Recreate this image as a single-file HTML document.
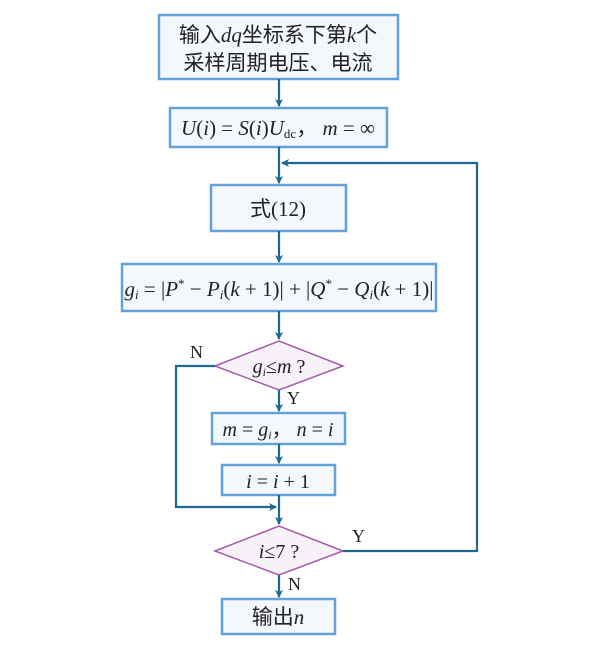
<!DOCTYPE html>
<html><head><meta charset="utf-8"><style>
html,body{margin:0;padding:0;background:#fff;}
svg{display:block}
text{font-family:"Liberation Serif","Noto Serif CJK SC","Noto Sans CJK SC",serif;fill:#222;}
.cj{font-family:"Liberation Serif","Noto Sans CJK SC",sans-serif;}
.i{font-style:italic}
</style></head><body>
<svg width="614" height="650" viewBox="0 0 614 650" xmlns="http://www.w3.org/2000/svg">
<defs>
<marker id="a" markerWidth="8" markerHeight="10" refX="7" refY="4" orient="auto" markerUnits="userSpaceOnUse">
<path d="M0,0 L8,4 L0,8 L2,4 Z" fill="#1c6a94"/>
</marker>
</defs>
<g fill="#f4f7fc" stroke="#62a2d8" stroke-width="2.5">
<rect x="159" y="15" width="239" height="64"/>
<rect x="170" y="108" width="217" height="39"/>
<rect x="211" y="185" width="135" height="46"/>
<rect x="122" y="264" width="314" height="47"/>
<rect x="212" y="413" width="133" height="31"/>
<rect x="222" y="465" width="113" height="30"/>
<rect x="222" y="599" width="113" height="35"/>
</g>
<g fill="#f7f1f8" stroke="#a45aab" stroke-width="1.5">
<polygon points="215,366 279,341 343,366 279,390"/>
<polygon points="215,551 279,526 343,551 279,575"/>
</g>
<g stroke="#1c6a94" stroke-width="2.2" fill="none">
<line x1="279" y1="79" x2="279" y2="106" marker-end="url(#a)"/>
<line x1="279" y1="147" x2="279" y2="183" marker-end="url(#a)"/>
<polyline points="343,551 477,551 477,163 282,163" marker-end="url(#a)"/>
<line x1="279" y1="231" x2="279" y2="262" marker-end="url(#a)"/>
<line x1="279" y1="311" x2="279" y2="339" marker-end="url(#a)"/>
<line x1="279" y1="390" x2="279" y2="411" marker-end="url(#a)"/>
<line x1="279" y1="444" x2="279" y2="463" marker-end="url(#a)"/>
<line x1="279" y1="495" x2="279" y2="524" marker-end="url(#a)"/>
<polyline points="215,366 176,366 176,507 276,507" marker-end="url(#a)"/>
<line x1="279" y1="575" x2="279" y2="597" marker-end="url(#a)"/>
</g>
<text x="278" y="42" font-size="21" text-anchor="middle" class="cj">输入<tspan class="i">dq</tspan>坐标系下第<tspan class="i">k</tspan>个</text>
<text x="278" y="70" font-size="21" text-anchor="middle" class="cj">采样周期电压、电流</text>
<text x="278" y="135" font-size="21" text-anchor="middle"><tspan class="i">U</tspan>(<tspan class="i">i</tspan>) = <tspan class="i">S</tspan>(<tspan class="i">i</tspan>)<tspan class="i">U</tspan><tspan font-size="13" dy="3">dc</tspan><tspan dy="-3" class="cj">，</tspan> <tspan class="i">m</tspan> = ∞</text>
<text x="278" y="216" font-size="21" text-anchor="middle" class="cj">式(12)</text>
<text x="279" y="296" font-size="21" text-anchor="middle"><tspan class="i">g</tspan><tspan font-size="13" dy="3" class="i">i</tspan><tspan dy="-3"> = |</tspan><tspan class="i">P</tspan><tspan font-size="13" dy="-8">*</tspan><tspan dy="8"> − </tspan><tspan class="i">P</tspan><tspan font-size="13" dy="3" class="i">i</tspan><tspan dy="-3">(</tspan><tspan class="i">k</tspan> + 1)| + |<tspan class="i">Q</tspan><tspan font-size="13" dy="-8">*</tspan><tspan dy="8"> − </tspan><tspan class="i">Q</tspan><tspan font-size="13" dy="3" class="i">i</tspan><tspan dy="-3">(</tspan><tspan class="i">k</tspan> + 1)|</text>
<text x="279" y="373" font-size="20" text-anchor="middle"><tspan class="i">g</tspan><tspan font-size="12" dy="3" class="i">i</tspan><tspan dy="-3">≤</tspan><tspan class="i">m</tspan> ?</text>
<text x="278" y="436" font-size="20" text-anchor="middle"><tspan class="i">m</tspan> = <tspan class="i">g</tspan><tspan font-size="12" dy="3" class="i">i</tspan><tspan dy="-3" class="cj">，</tspan> <tspan class="i">n</tspan> = <tspan class="i">i</tspan></text>
<text x="278" y="488" font-size="20" text-anchor="middle"><tspan class="i">i</tspan> = <tspan class="i">i</tspan> + 1</text>
<text x="279" y="558" font-size="20" text-anchor="middle"><tspan class="i">i</tspan>≤7 ?</text>
<text x="278" y="624" font-size="21" text-anchor="middle" class="cj">输出<tspan class="i">n</tspan></text>
<text x="190" y="358" font-size="18">N</text>
<text x="287" y="404" font-size="18">Y</text>
<text x="352" y="542" font-size="18">Y</text>
<text x="288" y="590" font-size="18">N</text>
</svg>
</body></html>
